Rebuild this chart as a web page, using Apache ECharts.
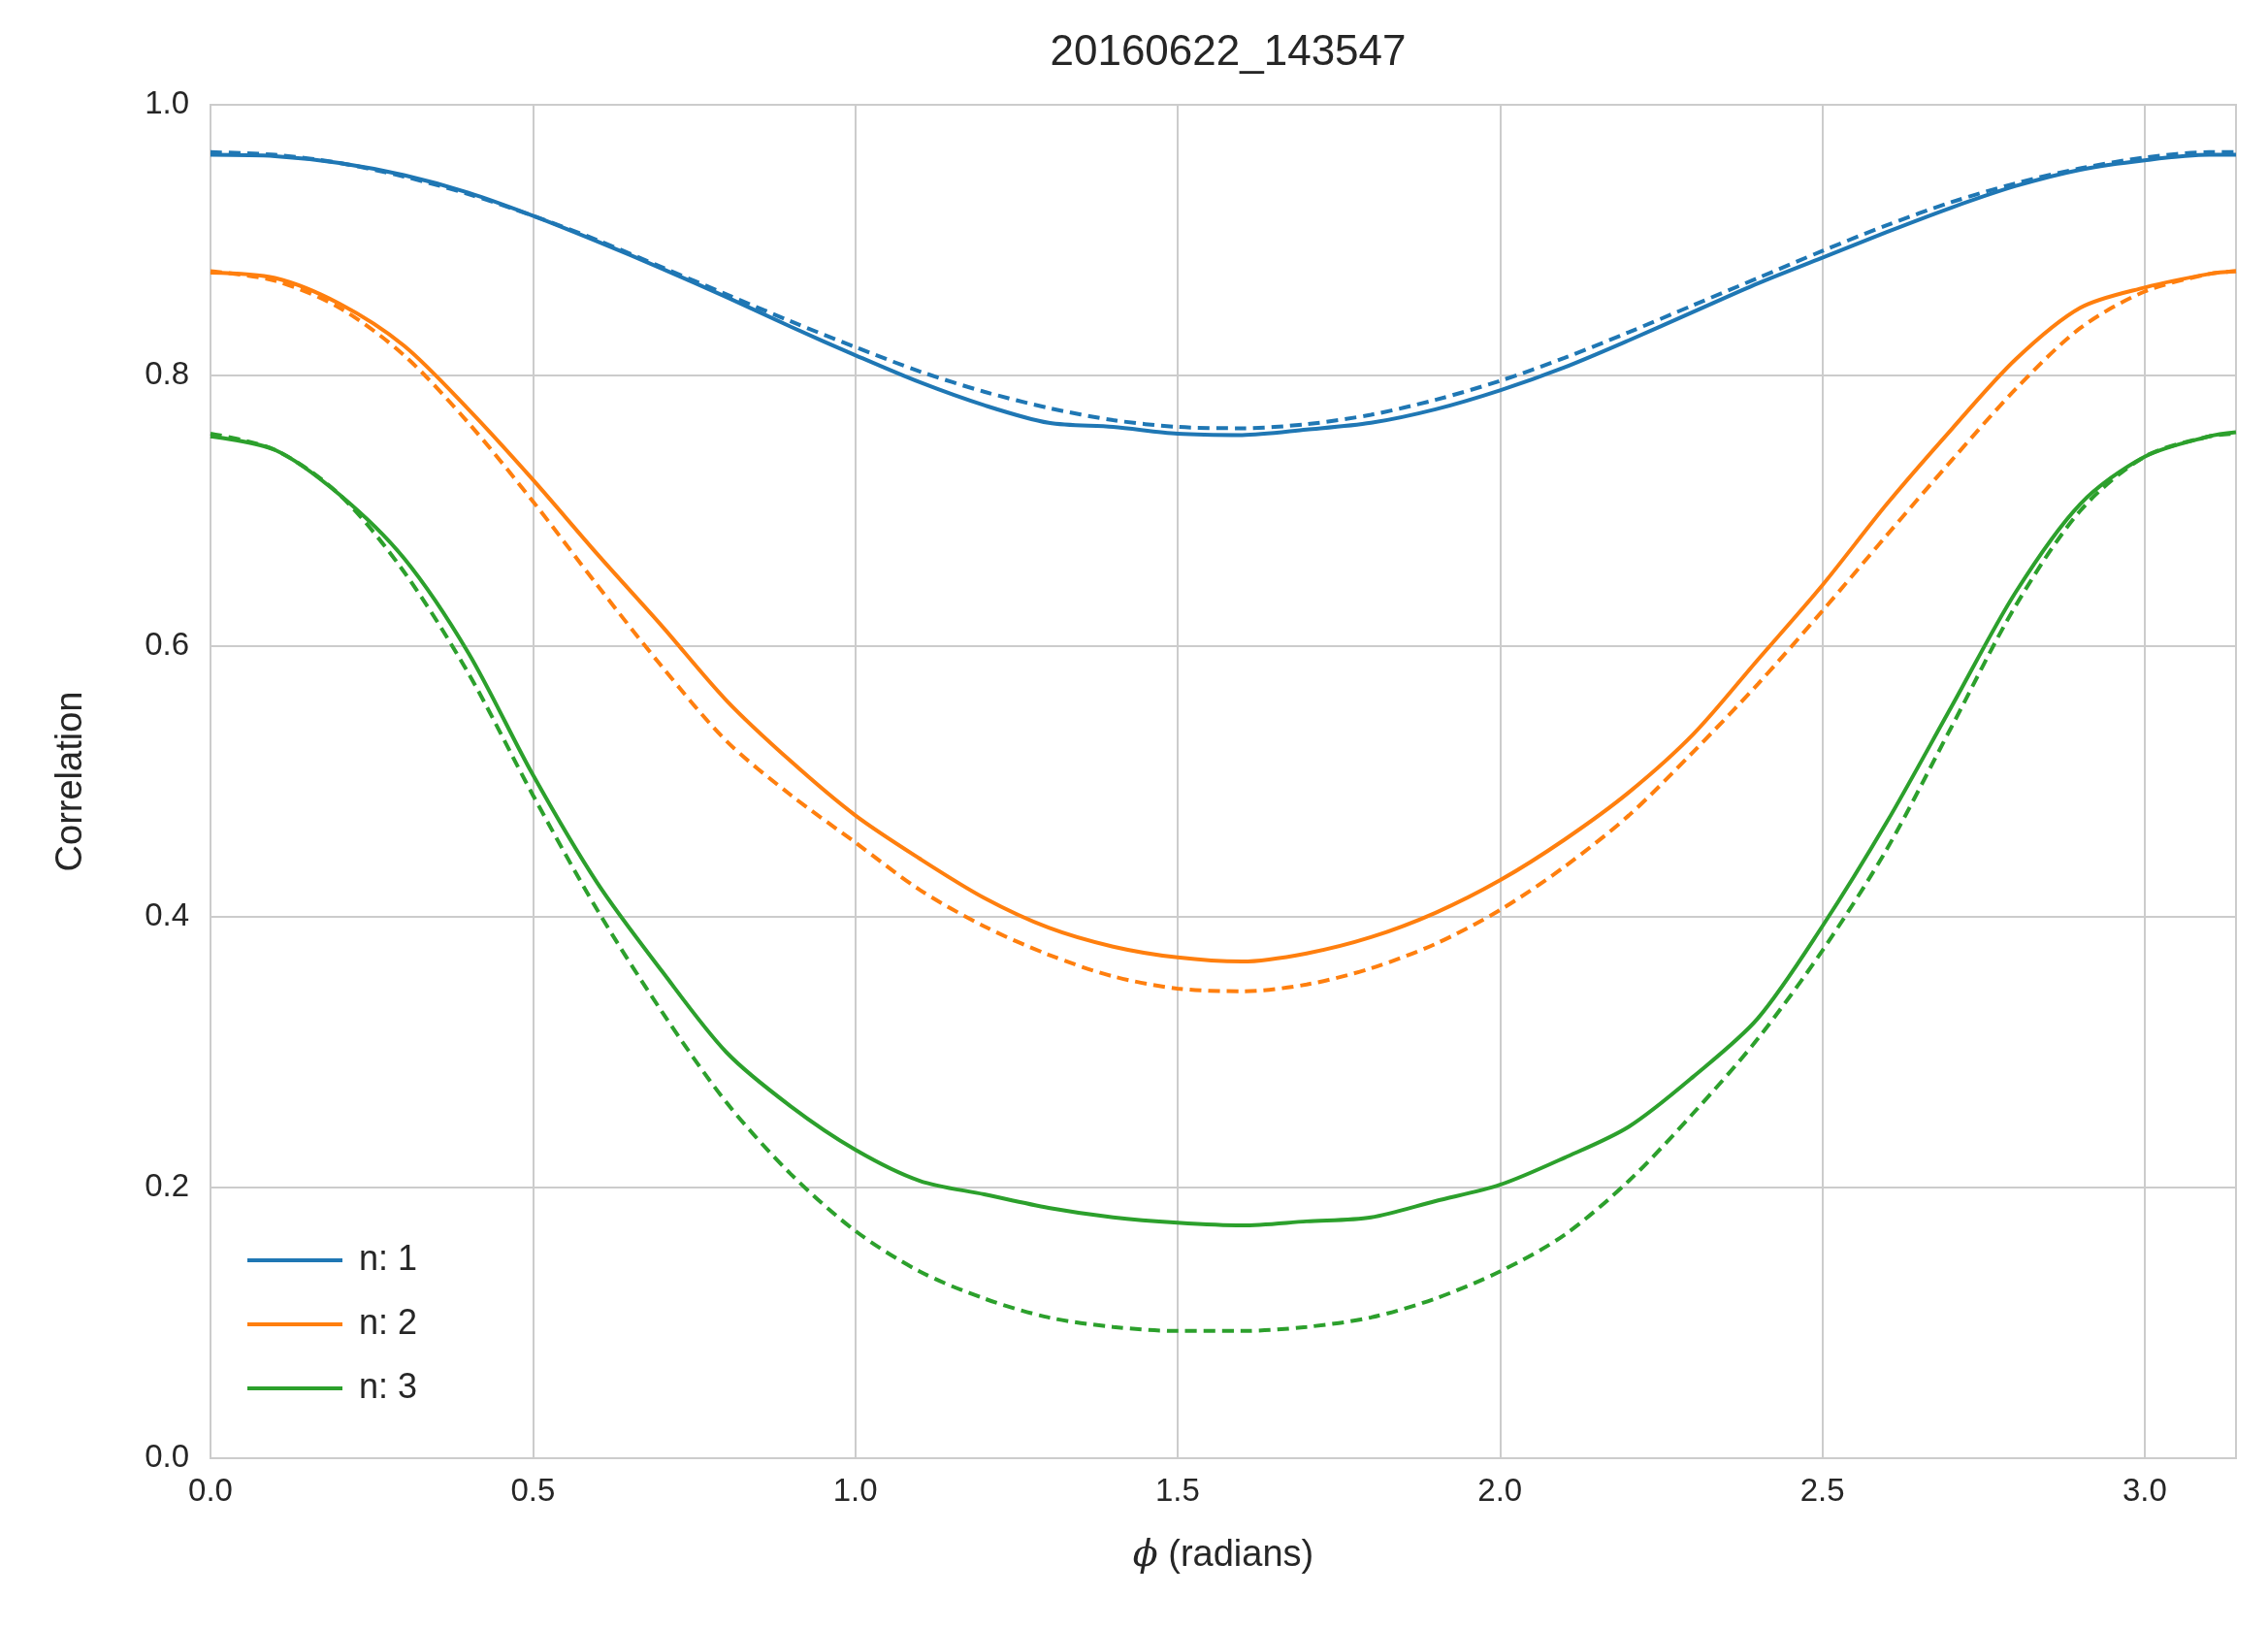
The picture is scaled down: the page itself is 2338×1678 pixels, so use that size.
<!DOCTYPE html>
<html>
<head>
<meta charset="utf-8">
<script src="https://cdn.jsdelivr.net/npm/echarts@6/dist/echarts.min.js"></script>
<style>html,body{margin:0;padding:0;background:#fff;}#main{width:2338px;height:1678px;}</style>
</head>
<body>
<div id="main"></div>
<script>
var phi = [0,0.1,0.2,0.3,0.4,0.5,0.6,0.7,0.8,0.9,1.0,1.1,1.2,1.3,1.4,1.5,1.6,1.7,1.8,1.9,2.0,2.1,2.2,2.3,2.4,2.5,2.6,2.7,2.8,2.9,3.0,3.1,3.14159];

var n1Data = [.963,.962,.957,.948,.935,.918,.899,.879,.858,.836,.815,.795,.778,.765,.762,.757,.756,.760,.765,.775,.789,.806,.826,.847,.868,.887,.906,.924,.940,.952,.959,.963,.963];
var n1Model = [.965,.963,.957,.947,.934,.918,.900,.880,.860,.840,.821,.803,.788,.776,.767,.762,.761,.764,.771,.782,.796,.813,.832,.852,.872,.892,.911,.928,.942,.953,.961,.965,.965];
var n2Data = [.876,.872,.853,.822,.775,.723,.668,.615,.560,.515,.475,.443,.414,.392,.378,.370,.367,.373,.385,.403,.427,.457,.492,.535,.590,.645,.705,.760,.812,.850,.865,.875,.877];
var n2Model = [.877,.870,.850,.815,.765,.707,.645,.585,.530,.490,.455,.420,.393,.372,.356,.347,.345,.350,.362,.380,.405,.437,.475,.522,.572,.626,.682,.737,.790,.835,.862,.875,.877];
var n3Data = [.755,.745,.712,.665,.595,.505,.425,.360,.300,.260,.228,.205,.195,.185,.178,.174,.172,.175,.178,.190,.202,.222,.245,.282,.325,.393,.470,.555,.640,.705,.740,.755,.758];
var n3Model = [.757,.745,.712,.655,.580,.490,.405,.330,.263,.210,.168,.138,.118,.104,.097,.094,.094,.097,.104,.118,.138,.165,.205,.255,.310,.375,.450,.540,.630,.700,.740,.755,.757];

var colors = ['#1f77b4', '#ff7f0e', '#2ca02c'];
var names = ['n: 1', 'n: 2', 'n: 3'];

function pairs(ys) {
  return phi.map(function (x, i) { return [x, ys[i]]; });
}

var series = [];
[[n1Data, n1Model], [n2Data, n2Model], [n3Data, n3Model]].forEach(function (d, i) {
  series.push({
    name: names[i], type: 'line', data: pairs(d[0]), showSymbol: false, smooth: 0.3,
    lineStyle: {color: colors[i], width: 4}, itemStyle: {color: colors[i]}
  });
  series.push({
    name: names[i] + ' model', type: 'line', data: pairs(d[1]), showSymbol: false, smooth: 0.3,
    lineStyle: {color: colors[i], width: 4, type: [12, 7]}, itemStyle: {color: colors[i]}
  });
});

var chart = echarts.init(document.getElementById('main'));
chart.setOption({
  animation: false,
  backgroundColor: '#fff',
  textStyle: {fontFamily: 'Liberation Sans'},
  title: {
    text: '20160622_143547', left: 1261, top: 28, textAlign: 'center',
    textStyle: {fontSize: 44, fontWeight: 'normal', color: '#262626', fontFamily: 'Liberation Sans'}
  },
  legend: {
    data: names, orient: 'vertical', left: 250, top: 1276, itemGap: 30,
    itemWidth: 98, itemHeight: 36, icon: 'path://M0,16 L100,16 L100,20 L0,20 Z',
    textStyle: {fontSize: 36, color: '#262626', padding: [0, 0, 0, 12]}
  },
  grid: {left: 217, right: 33, top: 108, bottom: 175},
  xAxis: {
    type: 'value', min: 0, max: Math.PI, interval: 0.5,
    name: '{i|ϕ} (radians)', nameLocation: 'middle', nameGap: 82,
    nameTextStyle: {fontSize: 38, color: '#262626', rich: {i: {fontSize: 38, fontStyle: 'italic', fontFamily: 'DejaVu Serif', color: '#262626'}}},
    axisLine: {show: true, lineStyle: {color: '#cccccc', width: 2}},
    axisTick: {show: false},
    axisLabel: {fontSize: 33, color: '#262626', margin: 18, showMaxLabel: false,
      formatter: function (v) { return v.toFixed(1); }},
    splitLine: {show: true, lineStyle: {color: '#cccccc', width: 2}}
  },
  yAxis: {
    type: 'value', min: 0, max: 1, interval: 0.2,
    name: 'Correlation', nameLocation: 'middle', nameGap: 124,
    nameTextStyle: {fontSize: 38, color: '#262626'},
    axisLine: {show: true, lineStyle: {color: '#cccccc', width: 2}},
    axisTick: {show: false},
    axisLabel: {fontSize: 33, color: '#262626', margin: 22,
      formatter: function (v) { return v.toFixed(1); }},
    splitLine: {show: true, lineStyle: {color: '#cccccc', width: 2}}
  },
  series: series
});
// right and top frame lines
chart.setOption({graphic: [{
  type: 'rect', shape: {x: 217, y: 108, width: 2338 - 217 - 33, height: 1678 - 108 - 175},
  style: {fill: 'none', stroke: '#cccccc', lineWidth: 2}, silent: true
}]});
</script>
</body>
</html>
